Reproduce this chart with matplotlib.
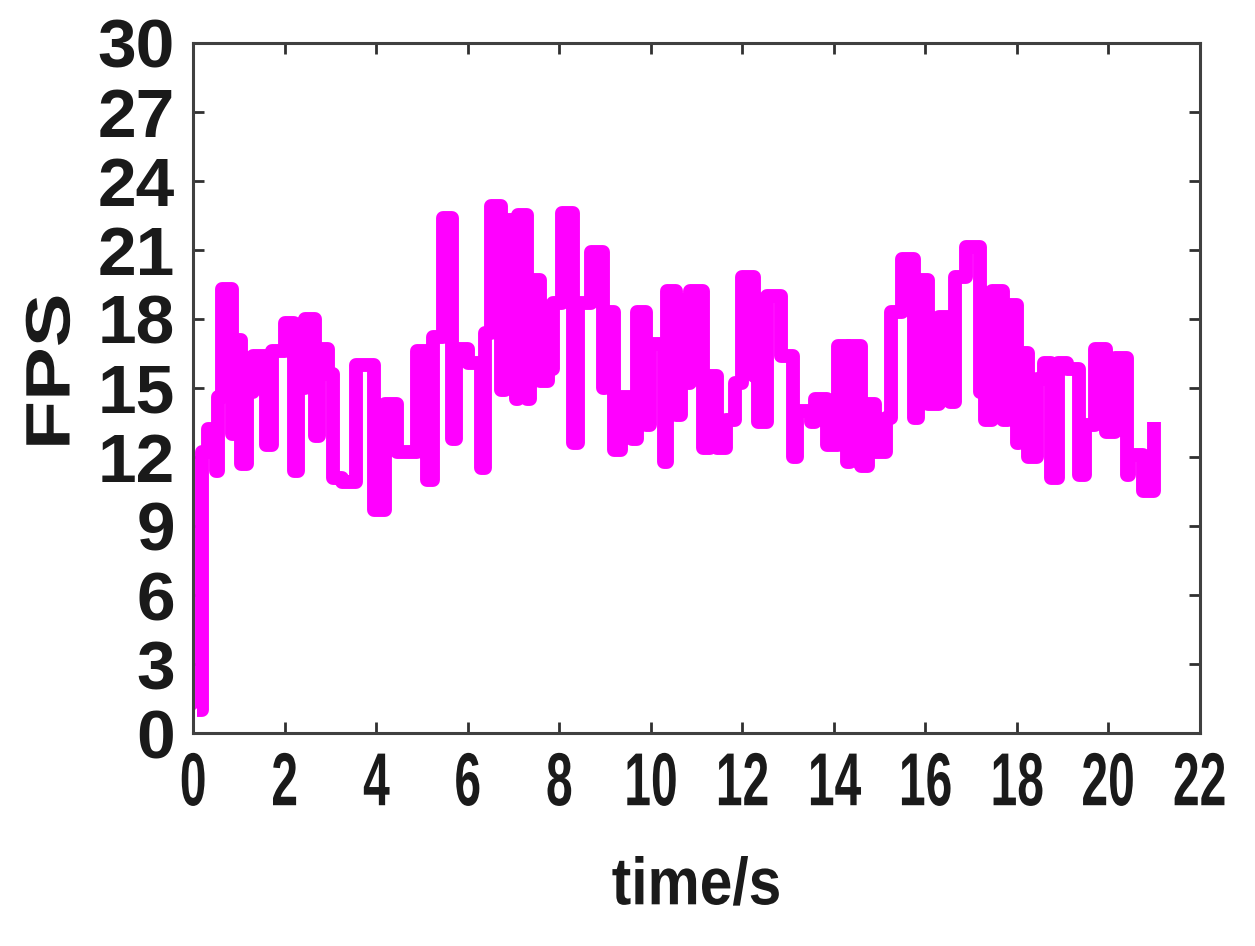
import matplotlib
matplotlib.use('Agg')
import matplotlib.pyplot as plt
import matplotlib.patheffects as pe
from matplotlib.transforms import Affine2D

# change times (s) and FPS level held from that time on
time_s = [0.08, 0.19, 0.33, 0.50, 0.53, 0.62, 0.85, 0.92, 1.05, 1.18, 1.30, 1.60,
          1.72, 2.00, 2.20, 2.30, 2.45, 2.65, 2.75, 2.95, 3.05, 3.25, 3.55, 3.95,
          4.20, 4.45, 4.90, 5.10, 5.25, 5.45, 5.65, 5.75, 6.00, 6.28, 6.38, 6.50,
          6.72, 6.82, 7.05, 7.10, 7.30, 7.35, 7.58, 7.75, 7.87, 8.05, 8.30, 8.42,
          8.70, 8.95, 9.00, 9.20, 9.35, 9.60, 9.70, 9.90, 9.98, 10.28, 10.35, 10.55,
          10.65, 10.78, 10.85, 11.15, 11.30, 11.45, 11.65, 11.85, 12.00, 12.25, 12.35, 12.55,
          12.85, 13.10, 13.20, 13.50, 13.60, 13.85, 14.10, 14.28, 14.35, 14.60, 14.75, 14.90,
          15.15, 15.25, 15.50, 15.75, 15.85, 16.05, 16.30, 16.55, 16.65, 16.90, 17.20, 17.30,
          17.45, 17.70, 17.80, 18.00, 18.05, 18.25, 18.45, 18.60, 18.75, 18.90, 19.10, 19.35,
          19.50, 19.70, 19.95, 20.15, 20.40, 20.45, 20.75, 21.00]
fps = [1.0, 12.2, 13.2, 11.4, 14.6, 19.3, 13.0, 17.1, 11.7, 14.8, 16.4, 12.5,
       16.6, 17.8, 11.4, 15.0, 18.0, 12.9, 16.7, 15.6, 11.1, 10.9, 16.0, 9.7,
       14.3, 12.2, 16.6, 11.0, 17.2, 22.4, 12.8, 16.7, 16.1, 11.5, 17.4, 22.9,
       14.9, 22.3, 14.5, 22.5, 14.5, 19.7, 15.3, 15.8, 18.7, 22.6, 12.6, 18.7,
       20.9, 15.0, 18.3, 12.3, 14.6, 12.8, 18.3, 13.4, 16.9, 11.8, 19.2, 13.8,
       18.8, 15.2, 19.2, 12.4, 15.5, 12.4, 13.6, 15.2, 19.8, 15.5, 13.5, 19.0,
       16.4, 12.0, 14.0, 13.5, 14.5, 12.5, 16.8, 11.8, 16.8, 11.6, 14.3, 12.2,
       13.7, 18.3, 20.6, 13.7, 19.7, 14.3, 18.1, 14.4, 19.8, 21.1, 14.8, 13.6,
       19.2, 13.6, 18.6, 12.6, 16.5, 12.0, 15.4, 16.1, 11.1, 16.1, 15.8, 11.2,
       13.4, 16.7, 13.1, 16.3, 11.2, 12.1, 10.5, 13.5]

x_ticks = list(range(0, 23, 2))
y_ticks = list(range(0, 31, 3))


class Squeeze(pe.AbstractPathEffect):
    # rescale the glyphs around their own centre (text in the source is condensed)
    def __init__(self, sx=1.0, sy=1.0):
        super().__init__()
        self.sx = sx
        self.sy = sy

    def draw_path(self, renderer, gc, tpath, affine, rgbFace=None):
        ext = tpath.get_extents()
        cx = (ext.x0 + ext.x1) / 2
        cy = (ext.y0 + ext.y1) / 2
        tr = Affine2D().translate(-cx, -cy).scale(self.sx, self.sy).translate(cx, cy) + affine
        renderer.draw_path(gc, tpath, tr, rgbFace)


fig = plt.figure(figsize=(12.55, 9.46), dpi=100)
ax = fig.add_axes([0.154, 0.225, 0.802, 0.730])

ax.step(time_s, fps, where='post', color='#ff00ff', lw=10,
        solid_joinstyle='round', solid_capstyle='butt')

ax.set_xlim(0, 22)
ax.set_ylim(0, 30)
ax.set_xticks(x_ticks)
ax.set_yticks(y_ticks)

for s in ax.spines.values():
    s.set_color('#404040')
    s.set_linewidth(2.2)
ax.tick_params(direction='in', length=8, width=2, color='#303030',
               top=True, right=True)
ax.tick_params(axis='y', pad=13)
ax.tick_params(axis='x', pad=13)

for lab in ax.get_yticklabels():
    lab.set_fontfamily('Liberation Sans')
    lab.set_fontweight('bold')
    lab.set_fontsize(50)
    lab.set_color('#1a1a1a')
for lab in ax.get_xticklabels():
    lab.set_fontfamily('Liberation Sans')
    lab.set_fontweight('bold')
    lab.set_fontsize(54)
    lab.set_color('#1a1a1a')
    lab.set_path_effects([Squeeze(0.64, 1.0)])

ax.set_xlabel('time/s', family='Liberation Sans', fontweight='bold',
              fontsize=48, color='#1a1a1a', labelpad=26,
              path_effects=[Squeeze(0.88, 1.0)])
ax.set_ylabel('FPS', family='Liberation Sans', fontweight='bold', fontsize=58,
              color='#1a1a1a', path_effects=[Squeeze(1.0, 0.78)])
ax.yaxis.set_label_coords(-0.100, 0.523)

fig.savefig('out.png', dpi=100)
